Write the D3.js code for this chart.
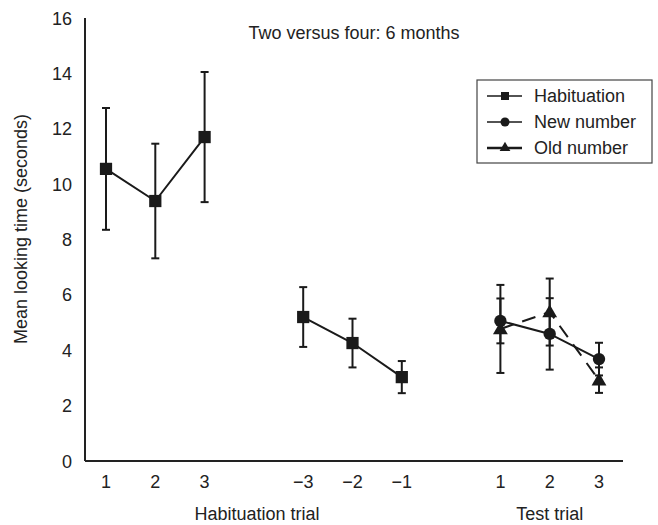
<!DOCTYPE html>
<html>
<head>
<meta charset="utf-8">
<script src="https://cdn.jsdelivr.net/npm/d3@7"></script>
<style>
  body { margin: 0; background: #fff; }
  text { font-family: "Liberation Sans", Arial, sans-serif; fill: #222; }
</style>
</head>
<body>
<svg id="chart" width="658" height="525"></svg>
<script>
// slot positions on x axis (gaps between groups)
var habSlots = [0, 1, 2, 4, 5, 6];
var habLabels = ['1', '2', '3', '\u22123', '\u22122', '\u22121'];
var habMean = [10.55, 9.39, 11.70, 5.20, 4.26, 3.03];
var habErr = [2.2, 2.07, 2.35, 1.08, 0.88, 0.58];

var testSlots = [8, 9, 10];
var testLabels = ['1', '2', '3'];
var newMean = [5.06, 4.59, 3.68];
var newErr = [0.81, 1.29, 0.59];
var oldMean = [4.77, 5.38, 2.92];
var oldErr = [1.59, 1.21, 0.46];

var yTicks = [0, 2, 4, 6, 8, 10, 12, 14, 16];

var svg = d3.select('#chart');

var x = d3.scaleLinear().domain([0, 10]).range([106, 599]);
var y = d3.scaleLinear().domain([0, 16]).range([461, 18]);

// axes lines
svg.append('line').attr('x1', x(0) - 21).attr('x2', 623)
  .attr('y1', y(0)).attr('y2', y(0)).attr('stroke', '#222').attr('stroke-width', 2);
svg.append('line').attr('x1', x(0) - 21).attr('x2', x(0) - 21)
  .attr('y1', y(0)).attr('y2', y(16)).attr('stroke', '#222').attr('stroke-width', 2);

svg.selectAll('.ytick').data(yTicks).enter().append('text')
  .attr('x', 72).attr('y', d => y(d) + 6.5)
  .attr('text-anchor', 'end').style('font-size', '18px').text(d => d);

var allSlots = habSlots.concat(testSlots);
var allLabels = habLabels.concat(testLabels);
svg.selectAll('.xtick').data(allSlots).enter().append('text')
  .attr('x', d => x(d)).attr('y', 488)
  .attr('text-anchor', 'middle').style('font-size', '18px')
  .text((d, i) => allLabels[i]);

svg.append('text').attr('x', 257).attr('y', 520).attr('text-anchor', 'middle')
  .style('font-size', '18px').text('Habituation trial');
svg.append('text').attr('x', x(9)).attr('y', 520).attr('text-anchor', 'middle')
  .style('font-size', '18px').text('Test trial');

svg.append('text').attr('transform', 'translate(27,229) rotate(-90)')
  .attr('text-anchor', 'middle').style('font-size', '18px')
  .text('Mean looking time (seconds)');

svg.append('text').attr('x', 354).attr('y', 39).attr('text-anchor', 'middle')
  .style('font-size', '18px').text('Two versus four: 6 months');

function errBars(slots, mean, err) {
  var g = svg.append('g').attr('stroke', '#1a1a1a').attr('stroke-width', 2);
  slots.forEach(function (s, i) {
    var cx = x(s), top = y(mean[i] + err[i]), bot = y(mean[i] - err[i]);
    g.append('line').attr('x1', cx).attr('x2', cx).attr('y1', top).attr('y2', bot);
    g.append('line').attr('x1', cx - 4).attr('x2', cx + 4).attr('y1', top).attr('y2', top);
    g.append('line').attr('x1', cx - 4).attr('x2', cx + 4).attr('y1', bot).attr('y2', bot);
  });
}

function seriesLine(slots, mean, dash) {
  var line = d3.line().x(d => x(d[0])).y(d => y(d[1]));
  svg.append('path').datum(slots.map((s, i) => [s, mean[i]]))
    .attr('d', line).attr('fill', 'none').attr('stroke', '#1a1a1a')
    .attr('stroke-width', 2).attr('stroke-dasharray', dash);
}

errBars(habSlots, habMean, habErr);
errBars(testSlots, oldMean, oldErr);
errBars(testSlots, newMean, newErr);

seriesLine(habSlots.slice(0, 3), habMean.slice(0, 3), null);
seriesLine(habSlots.slice(3), habMean.slice(3), null);
seriesLine(testSlots, oldMean, '14,9');
seriesLine(testSlots, newMean, null);

var sq = d3.symbol().type(d3.symbolSquare).size(150);
var ci = d3.symbol().type(d3.symbolCircle).size(120);
var tri = d3.symbol().type(d3.symbolTriangle).size(95);

svg.selectAll('.hab').data(habSlots).enter().append('path')
  .attr('d', sq).attr('fill', '#1a1a1a')
  .attr('transform', (d, i) => 'translate(' + x(d) + ',' + y(habMean[i]) + ')');
svg.selectAll('.old').data(testSlots).enter().append('path')
  .attr('d', tri).attr('fill', '#1a1a1a')
  .attr('transform', (d, i) => 'translate(' + x(d) + ',' + (y(oldMean[i]) + 1) + ')');
svg.selectAll('.new').data(testSlots).enter().append('path')
  .attr('d', ci).attr('fill', '#1a1a1a')
  .attr('transform', (d, i) => 'translate(' + x(d) + ',' + y(newMean[i]) + ')');

// legend
var leg = svg.append('g');
leg.append('rect').attr('x', 477).attr('y', 80).attr('width', 175).attr('height', 83)
  .attr('fill', '#fff').attr('stroke', '#444').attr('stroke-width', 1.2);
var legNames = ['Habituation', 'New number', 'Old number'];
var legSyms = [d3.symbol().type(d3.symbolSquare).size(64),
  d3.symbol().type(d3.symbolCircle).size(64),
  d3.symbol().type(d3.symbolTriangle).size(50)];
legNames.forEach(function (n, i) {
  var ly = 96 + i * 26;
  leg.append('line').attr('x1', 487).attr('x2', 522).attr('y1', ly).attr('y2', ly)
    .attr('stroke', '#1a1a1a').attr('stroke-width', i == 2 ? 2.6 : 1.5);
  leg.append('path').attr('d', legSyms[i]).attr('fill', '#1a1a1a')
    .attr('transform', 'translate(505,' + ly + ')');
  leg.append('text').attr('x', 534).attr('y', ly + 6).style('font-size', '18px').text(n);
});
</script>
</body>
</html>
